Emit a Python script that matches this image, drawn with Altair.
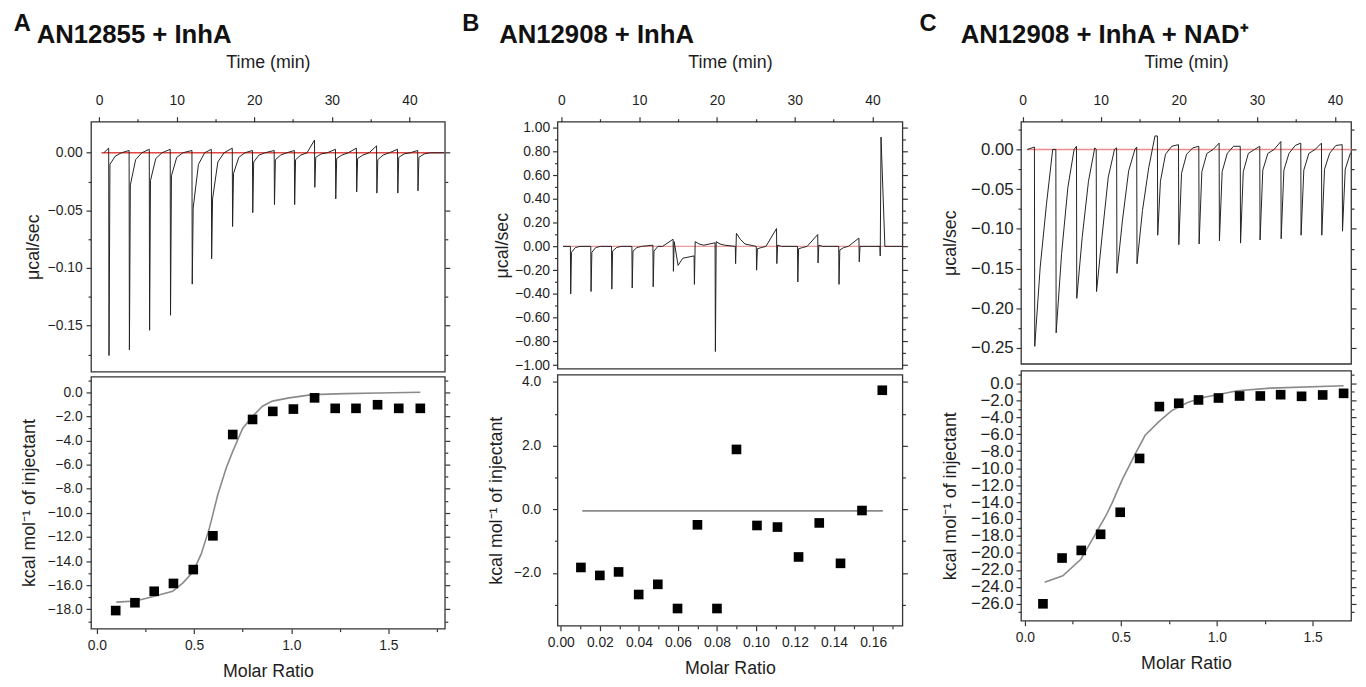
import altair as alt
import pandas as pd

FONT = "Liberation Sans"
INK = "#1e1e1e"
AXC = "#333333"

# ---------------- values ----------------
# Panel A : AN12855 + InhA
A_inj_t   = [1.27, 3.9, 6.5, 9.2, 12.0, 14.5, 17.2, 19.8, 22.6, 25.2, 27.8, 30.5, 33.2, 35.8, 38.5, 41.1]
A_inj_min = [-0.176, -0.171, -0.154, -0.141, -0.114, -0.092, -0.064, -0.052, -0.045, -0.045, -0.030, -0.040, -0.034, -0.035, -0.035, -0.033]
A_inj_pos = [0.004, 0.002, 0.003, 0.003, 0.002, 0.003, 0.004, 0.002, 0.002, 0.002, 0.011, 0.003, 0.004, 0.006, 0.003, 0.002]
A_after   = [-0.010, -0.028, -0.024, -0.020, -0.048, -0.040, -0.018, -0.008, -0.006, -0.006, -0.004, -0.005, -0.005, -0.006, -0.004, -0.004]
A_mid     = [-0.003, -0.006, -0.005, -0.004, -0.010, -0.008, -0.004, -0.002, -0.002, -0.002, -0.001, -0.002, -0.002, -0.002, -0.001, -0.001]
A_end     = [0.0, 0.0, 0.0, 0.0, 0.0, 0.0, 0.0, 0.0, 0.0, 0.0, 0.0, 0.0, 0.0, 0.0, 0.0, 0.0]
A_trace_span = [0.6, 44.5]
A_base_span  = [0.3, 44.5]
A_ratio = [0.097, 0.196, 0.295, 0.394, 0.496, 0.597, 0.699, 0.801, 0.905, 1.011, 1.12, 1.226, 1.333, 1.444, 1.553, 1.664]
A_heat  = [-18.1, -17.45, -16.5, -15.85, -14.7, -11.9, -3.5, -2.25, -1.58, -1.39, -0.46, -1.33, -1.33, -1.03, -1.33, -1.33]
A_fit_x = [0.10, 0.20, 0.30, 0.39, 0.443, 0.494, 0.537, 0.58, 0.622, 0.665, 0.699, 0.75, 0.80, 0.852, 0.903, 0.989, 1.108, 1.278, 1.45, 1.664]
A_fit_y = [-17.4, -17.3, -16.9, -16.5, -15.8, -14.9, -13.4, -11.2, -8.5, -6.3, -4.9, -3.0, -2.0, -1.15, -0.73, -0.46, -0.19, -0.11, -0.06, 0.0]

# Panel B : AN12908 + InhA
B_inj_t   = [1.19, 3.81, 6.48, 9.1, 11.8, 14.4, 17.1, 19.8, 22.4, 25.1, 27.7, 30.4, 33.0, 35.7, 38.3, 41.0]
B_inj_min = [-0.40, -0.38, -0.36, -0.35, -0.34, -0.21, -0.32, -0.885, -0.145, -0.20, -0.145, -0.30, -0.14, -0.32, -0.13, -0.08]
B_inj_pos = [0.0, 0.0, 0.0, 0.0, 0.01, 0.06, -0.08, 0.03, 0.0, 0.0, 0.15, 0.0, 0.10, 0.0, 0.07, 0.0]
B_after   = [-0.05, -0.05, -0.04, -0.04, -0.04, 0.04, 0.04, 0.04, 0.11, -0.02, 0.01, -0.02, 0.01, -0.03, 0.0, 0.92]
B_mid     = [-0.01, -0.01, -0.01, -0.01, 0.0, -0.16, 0.02, 0.02, 0.06, -0.01, 0.0, -0.01, 0.0, -0.01, 0.0, 0.0]
B_end     = [0.0, 0.0, 0.0, 0.0, 0.0, -0.10, 0.01, 0.01, 0.02, 0.0, 0.0, 0.0, 0.0, 0.0, 0.0, 0.0]
B_trace_span = [0.2, 43.8]
B_base_span  = [0.2, 43.8]
B_ratio = [0.0103, 0.020, 0.0296, 0.0399, 0.0497, 0.0598, 0.070, 0.080, 0.090, 0.1005, 0.111, 0.1218, 0.1324, 0.1433, 0.1543, 0.1647]
B_heat  = [-1.83, -2.08, -1.97, -2.68, -2.36, -3.12, -0.49, -3.12, 1.88, -0.51, -0.56, -1.50, -0.43, -1.70, -0.04, 3.74]
B_fit_x = [0.011, 0.165]
B_fit_y = [-0.05, -0.05]

# Panel C : AN12908 + InhA + NAD+
C_inj_t   = [1.56, 4.3, 6.94, 9.47, 12.08, 14.65, 17.3, 20.0, 22.6, 25.2, 27.9, 30.4, 33.1, 35.65, 38.3, 40.95]
C_inj_min = [-0.248, -0.231, -0.1875, -0.179, -0.156, -0.144, -0.108, -0.12, -0.119, -0.115, -0.118, -0.114, -0.1125, -0.108, -0.108, -0.103]
C_inj_pos = [0.003, 0.0, 0.004, 0.0, 0.002, 0.003, 0.017, 0.006, 0.004, 0.008, 0.004, 0.004, 0.010, 0.008, 0.008, 0.006]
C_after   = [-0.148, -0.131, -0.110, -0.110, -0.090, -0.077, -0.040, -0.030, -0.028, -0.028, -0.028, -0.026, -0.026, -0.026, -0.025, -0.025]
C_mid     = [-0.069, -0.048, -0.040, -0.035, -0.027, -0.023, -0.006, -0.006, -0.005, -0.005, -0.005, -0.005, -0.005, -0.005, -0.005, -0.005]
C_end     = [0.0, 0.0, 0.002, 0.0, 0.0, 0.017, 0.004, 0.002, 0.0, 0.004, 0.0, 0.0, 0.005, 0.0, 0.005, 0.0]
C_trace_span = [0.6, 42.1]
C_base_span  = [0.6, 42.1]
C_ratio = [0.0945, 0.194, 0.294, 0.395, 0.497, 0.598, 0.701, 0.802, 0.905, 1.009, 1.119, 1.227, 1.333, 1.442, 1.552, 1.661]
C_heat  = [-26.0, -20.6, -19.7, -17.8, -15.2, -8.85, -2.73, -2.34, -1.95, -1.72, -1.48, -1.48, -1.33, -1.52, -1.36, -1.17]
C_fit_x = [0.103, 0.198, 0.292, 0.352, 0.421, 0.455, 0.507, 0.576, 0.627, 0.696, 0.765, 0.851, 0.936, 1.022, 1.108, 1.28, 1.661]
C_fit_y = [-23.47, -22.7, -20.74, -18.4, -15.67, -14.1, -11.38, -8.27, -6.12, -4.56, -3.2, -2.22, -1.64, -1.25, -0.86, -0.55, -0.27]

# tick positions (majors are labelled)
A_time_ticks = [0, 5, 10, 15, 20, 25, 30, 35, 40]
A_ucal_ticks = [0.0, -0.025, -0.05, -0.075, -0.10, -0.125, -0.15, -0.175]
A_ratio_ticks = [0.0, 0.25, 0.5, 0.75, 1.0, 1.25, 1.5, 1.75]
A_kcal_ticks = [1.0, 0.0, -1.0, -2.0, -3.0, -4.0, -5.0, -6.0, -7.0, -8.0, -9.0, -10.0, -11.0, -12.0,
                -13.0, -14.0, -15.0, -16.0, -17.0, -18.0, -19.0]
B_time_ticks = [0, 5, 10, 15, 20, 25, 30, 35, 40]
B_ucal_ticks = [1.0, 0.9, 0.8, 0.7, 0.6, 0.5, 0.4, 0.3, 0.2, 0.1, 0.0, -0.1, -0.2, -0.3, -0.4, -0.5,
                -0.6, -0.7, -0.8, -0.9, -1.0]
B_ratio_ticks = [0.0, 0.01, 0.02, 0.03, 0.04, 0.05, 0.06, 0.07, 0.08, 0.09, 0.10, 0.11, 0.12, 0.13,
                 0.14, 0.15, 0.16, 0.17]
B_kcal_ticks = [4.0, 3.0, 2.0, 1.0, 0.0, -1.0, -2.0, -3.0]
C_time_ticks = [0, 5, 10, 15, 20, 25, 30, 35, 40]
C_ucal_ticks = [0.025, 0.0, -0.025, -0.05, -0.075, -0.10, -0.125, -0.15, -0.175, -0.20, -0.225, -0.25]
C_ratio_ticks = [0.0, 0.25, 0.5, 0.75, 1.0, 1.25, 1.5]
C_kcal_ticks = [1.0, 0.0, -1.0, -2.0, -3.0, -4.0, -5.0, -6.0, -7.0, -8.0, -9.0, -10.0, -11.0, -12.0,
                -13.0, -14.0, -15.0, -16.0, -17.0, -18.0, -19.0, -20.0, -21.0, -22.0, -23.0, -24.0,
                -25.0, -26.0, -27.0]

# ---------------- styling ----------------
SLOW = (0.7, 1.5, 2.3)
FAST = (0.35, 1.0, 1.8)


def trace_frame(span, inj_t, mins, pos, after, mid, end, steps):
    rows = [(span[0], 0.0)]
    for k, t in enumerate(inj_t):
        d1, d2, d3 = steps[k]
        rows += [(t - 0.04, pos[k]), (t, mins[k]), (t + d1, after[k]), (t + d2, mid[k]), (t + d3, end[k])]
    rows.append((span[1], 0.0))
    df = pd.DataFrame(rows, columns=["t", "v"])
    df["i"] = range(len(df))
    return df


def axis(values, major, fmt, orient, title=None, labels=True, lsize=14,
         label_pad=4, title_pad=6, major_tick=5, minor_tick=3):
    test = f"abs(datum.value/{major} - round(datum.value/{major})) < 0.001"
    return alt.Axis(
        values=values, orient=orient, title=title, labels=labels,
        labelExpr=f"{test} ? format(datum.value, '{fmt}') : ''",
        tickSize={"condition": {"test": test, "value": major_tick}, "value": minor_tick},
        domain=False, grid=False, ticks=True, tickColor=AXC, tickWidth=1.2,
        labelColor=INK, labelFont=FONT, labelFontSize=lsize, labelPadding=label_pad,
        labelOverlap=False, titleFont=FONT, titleFontSize=18, titleFontWeight="normal",
        titleColor=INK, titlePadding=title_pad,
    )


def column(cfg):
    tr = trace_frame(cfg["trace_span"], cfg["inj_t"], cfg["inj_min"], cfg["inj_pos"],
                     cfg["after"], cfg["mid"], cfg["end"], cfg["steps"])
    base = pd.DataFrame({"t0": [cfg["base_span"][0]], "t1": [cfg["base_span"][1]], "v": [0.0]})
    xs = alt.Scale(domain=cfg["tdom"], nice=False, zero=False)
    ys = alt.Scale(domain=cfg["ydom1"], nice=False, zero=False)
    xax = axis(cfg["time_ticks"], 10, "d", "top", "Time (min)", lsize=14,
               label_pad=9, title_pad=23)
    yl = axis(cfg["ucal_ticks"], cfg["ucal_major"], ".2f", "left", "μcal/sec", lsize=cfg["lsize"],
              label_pad=cfg["yl1"][0], title_pad=cfg["yl1"][1])
    yr = axis(cfg["ucal_ticks"], cfg["ucal_major"], ".2f", "right", None, labels=False)
    line = alt.Chart(tr).mark_line(color="#222222", strokeWidth=1, clip=True).encode(
        x=alt.X("t:Q", scale=xs, axis=xax),
        y=alt.Y("v:Q", scale=ys, axis=yl),
        order="i:Q",
    )
    rule = alt.Chart(base).mark_rule(color=cfg["red"], strokeWidth=1.4).encode(
        x=alt.X("t0:Q", scale=xs, axis=xax),
        x2="t1:Q",
        y=alt.Y("v:Q", scale=ys, axis=yr),
    )
    top = alt.layer(rule, line).resolve_axis(y="independent").properties(
        width=cfg["W"], height=cfg["H1"],
        title=alt.TitleParams(cfg["name"], anchor="start", frame="group", dx=cfg["name_dx"],
                              fontSize=26, fontWeight="bold", font=FONT, color="#111111",
                              offset=6),
    )

    heat = pd.DataFrame({"r": cfg["ratio"], "h": cfg["heat"]})
    fit = pd.DataFrame({"r": cfg["fit_x"], "h": cfg["fit_y"]})
    xs2 = alt.Scale(domain=cfg["xdom2"], nice=False, zero=False)
    ys2 = alt.Scale(domain=cfg["ydom2"], nice=False, zero=False)
    xax2 = axis(cfg["ratio_ticks"], cfg["ratio_major"], cfg["ratio_fmt"], "bottom", "Molar Ratio",
                lsize=14, label_pad=5, title_pad=10)
    yl2 = axis(cfg["kcal_ticks"], 2, ".1f", "left", "kcal mol⁻¹ of injectant", lsize=cfg["lsize"],
               label_pad=cfg["yl2"][0], title_pad=cfg["yl2"][1])
    yr2 = axis(cfg["kcal_ticks"], 2, ".1f", "right", None, labels=False)
    fitline = alt.Chart(fit).mark_line(color="#8a8a8a", strokeWidth=1.6).encode(
        x=alt.X("r:Q", scale=xs2, axis=xax2),
        y=alt.Y("h:Q", scale=ys2, axis=yr2),
    )
    pts = alt.Chart(heat).mark_square(color="#000000", size=95, opacity=1).encode(
        x=alt.X("r:Q", scale=xs2, axis=xax2),
        y=alt.Y("h:Q", scale=ys2, axis=yl2),
    )
    bottom = alt.layer(fitline, pts).resolve_axis(y="independent").properties(
        width=cfg["W"], height=cfg["H2"])

    return alt.vconcat(top, bottom, spacing=0).properties(
        title=alt.TitleParams(cfg["letter"], anchor="start", dx=cfg["letter_dx"], fontSize=24,
                              fontWeight="bold", font=FONT, color="#111111", offset=-15)
    )


colA = column(dict(
    letter="A", name="AN12855 + InhA", letter_dx=-6, name_dx=-55,
    inj_t=A_inj_t, inj_min=A_inj_min, inj_pos=A_inj_pos, after=A_after, mid=A_mid, end=A_end,
    steps=[(0.12, 0.8, 1.6)] * 16, trace_span=A_trace_span, base_span=A_base_span,
    red="#e4463f", W=358, H1=253, H2=255, tdom=[-1.05, 44.56], ydom1=[-0.19, 0.027],
    time_ticks=A_time_ticks, ucal_ticks=A_ucal_ticks, ucal_major=0.05, yl1=(4, 5),
    ratio=A_ratio, heat=A_heat, fit_x=A_fit_x, fit_y=A_fit_y,
    xdom2=[-0.03, 1.79], ydom2=[-19.6, 1.3], ratio_ticks=A_ratio_ticks, ratio_major=0.5,
    ratio_fmt=".1f", kcal_ticks=A_kcal_ticks, yl2=(4, 9), lsize=14,
))
colB = column(dict(
    letter="B", name="AN12908 + InhA", letter_dx=-25, name_dx=-59,
    inj_t=B_inj_t, inj_min=B_inj_min, inj_pos=B_inj_pos, after=B_after, mid=B_mid, end=B_end,
    steps=[(0.1, 0.6, 1.2)] * 16, trace_span=B_trace_span, base_span=B_base_span,
    red="#f09a9a", W=349, H1=250, H2=254, tdom=[-0.51, 43.85], ydom1=[-1.03, 1.05],
    time_ticks=B_time_ticks, ucal_ticks=B_ucal_ticks, ucal_major=0.2, yl1=(3, 3),
    ratio=B_ratio, heat=B_heat, fit_x=B_fit_x, fit_y=B_fit_y,
    xdom2=[-0.0017, 0.175], ydom2=[-3.66, 4.23], ratio_ticks=B_ratio_ticks, ratio_major=0.02,
    ratio_fmt=".2f", kcal_ticks=B_kcal_ticks, yl2=(12, 8), lsize=14,
))
colC = column(dict(
    letter="C", name="AN12908 + InhA + NAD⁺", letter_dx=-22, name_dx=-61,
    inj_t=C_inj_t, inj_min=C_inj_min, inj_pos=C_inj_pos, after=C_after, mid=C_mid, end=C_end,
    steps=[SLOW] * 6 + [FAST] * 10, trace_span=C_trace_span, base_span=C_base_span,
    red="#ee8c8c", W=334, H1=245, H2=253, tdom=[-0.2, 42.05], ydom1=[-0.27, 0.035],
    time_ticks=C_time_ticks, ucal_ticks=C_ucal_ticks, ucal_major=0.05, yl1=(3, 11),
    ratio=C_ratio, heat=C_heat, fit_x=C_fit_x, fit_y=C_fit_y,
    xdom2=[-0.02, 1.70], ydom2=[-28.0, 1.5], ratio_ticks=C_ratio_ticks, ratio_major=0.5,
    ratio_fmt=".1f", kcal_ticks=C_kcal_ticks, yl2=(3, 11), lsize=17,
))

chart = alt.hconcat(colA, colB, colC, spacing=10).properties(
    padding={"left": 5, "top": 0, "right": 0, "bottom": 0}
).configure(font=FONT).configure_view(stroke="#333333", strokeWidth=1.3)

chart.save("out.html", embed_options={"renderer": "svg", "actions": False})
